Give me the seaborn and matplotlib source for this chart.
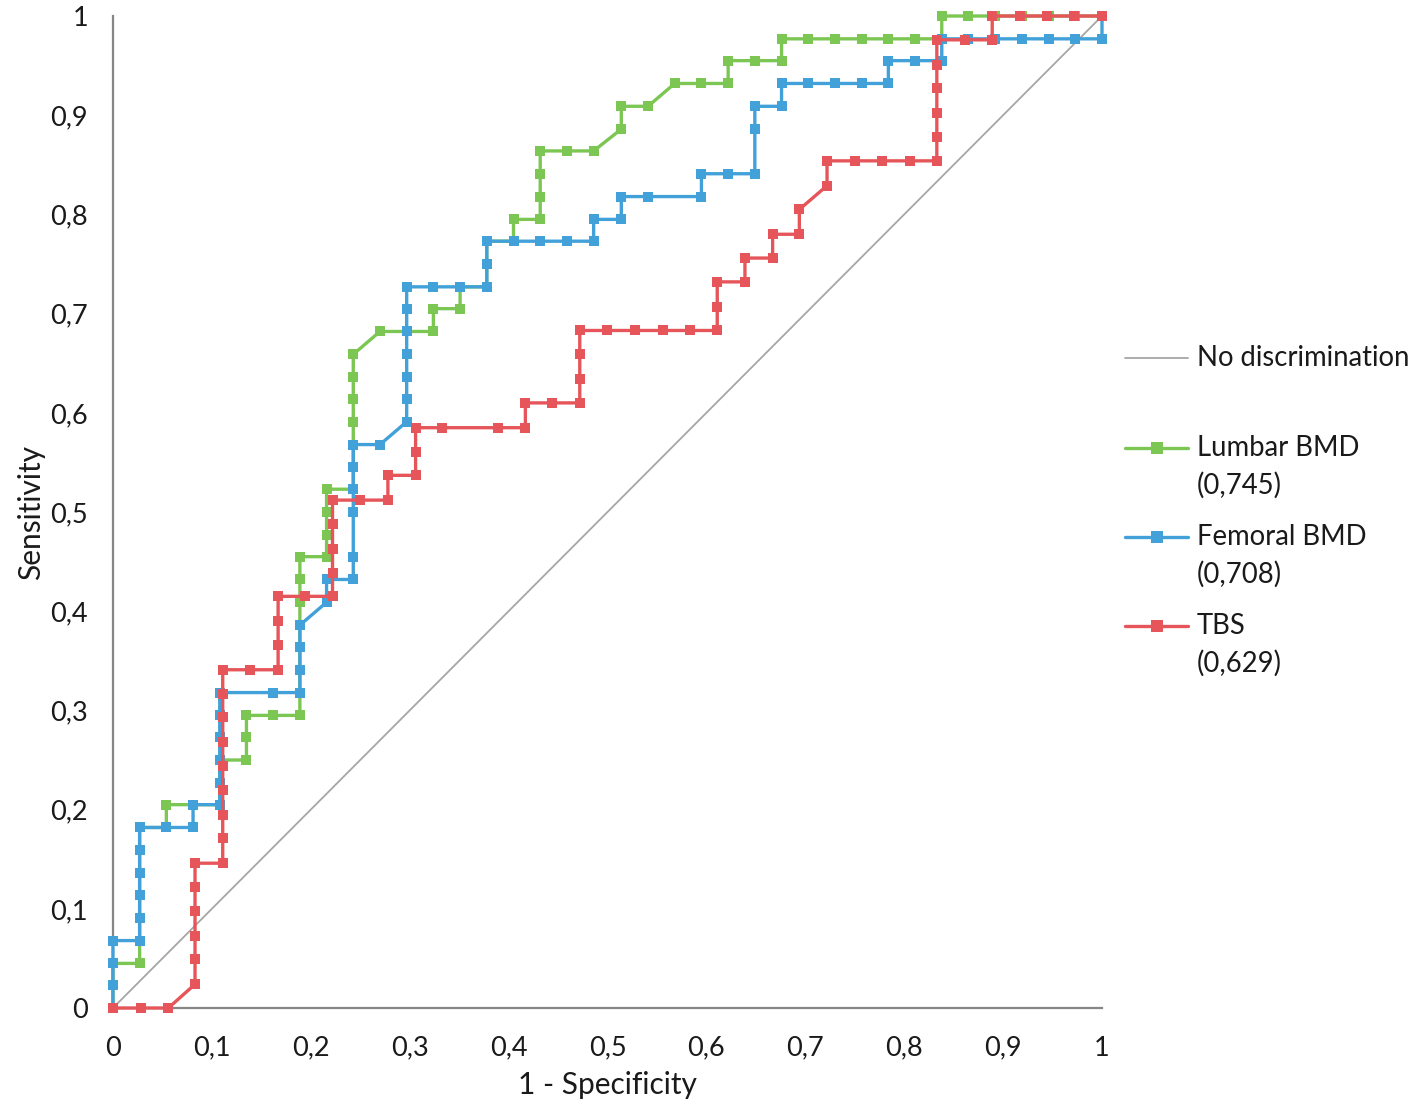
import matplotlib
matplotlib.use("Agg")
import matplotlib.pyplot as plt
import seaborn as sns
from matplotlib.lines import Line2D
from matplotlib.ticker import FuncFormatter, MultipleLocator

# ROC points (1 - specificity, sensitivity)
lumbar_fpr = [0, 0, 0, 0.027, 0.027, 0.027, 0.027, 0.027, 0.027, 0.027, 0.054, 0.054, 0.081, 0.108,
              0.108, 0.108, 0.135, 0.135, 0.135, 0.162, 0.189, 0.189, 0.189, 0.189, 0.189, 0.189,
              0.189, 0.189, 0.216, 0.216, 0.216, 0.216, 0.243, 0.243, 0.243, 0.243, 0.243, 0.243,
              0.243, 0.270, 0.297, 0.324, 0.324, 0.351, 0.351, 0.378, 0.378, 0.378, 0.405, 0.405,
              0.432, 0.432, 0.432, 0.432, 0.459, 0.486, 0.514, 0.514, 0.541, 0.568, 0.595, 0.622,
              0.622, 0.649, 0.676, 0.676, 0.703, 0.730, 0.757, 0.784, 0.811, 0.838, 0.838, 0.865,
              0.892, 0.919, 0.946, 0.973, 1]
lumbar_tpr = [0, 0.023, 0.045, 0.045, 0.068, 0.091, 0.114, 0.136, 0.159, 0.182, 0.182, 0.205, 0.205,
              0.205, 0.227, 0.250, 0.250, 0.273, 0.295, 0.295, 0.295, 0.318, 0.341, 0.364, 0.386,
              0.409, 0.432, 0.455, 0.455, 0.477, 0.500, 0.523, 0.523, 0.545, 0.568, 0.591, 0.614,
              0.636, 0.659, 0.682, 0.682, 0.682, 0.705, 0.705, 0.727, 0.727, 0.750, 0.773, 0.773,
              0.795, 0.795, 0.818, 0.841, 0.864, 0.864, 0.864, 0.886, 0.909, 0.909, 0.932, 0.932,
              0.932, 0.955, 0.955, 0.955, 0.977, 0.977, 0.977, 0.977, 0.977, 0.977, 0.977, 1, 1,
              1, 1, 1, 1, 1]

femoral_fpr = [0, 0, 0, 0, 0.027, 0.027, 0.027, 0.027, 0.027, 0.027, 0.054, 0.081, 0.081, 0.108,
               0.108, 0.108, 0.108, 0.108, 0.108, 0.162, 0.189, 0.189, 0.189, 0.189, 0.216, 0.216,
               0.243, 0.243, 0.243, 0.243, 0.243, 0.243, 0.270, 0.297, 0.297, 0.297, 0.297, 0.297,
               0.297, 0.297, 0.324, 0.351, 0.378, 0.378, 0.378, 0.405, 0.432, 0.459, 0.486, 0.486,
               0.514, 0.514, 0.541, 0.595, 0.595, 0.622, 0.649, 0.649, 0.649, 0.676, 0.676, 0.703,
               0.730, 0.757, 0.784, 0.784, 0.811, 0.838, 0.838, 0.865, 0.892, 0.919, 0.946, 0.973,
               1, 1]
femoral_tpr = [0, 0.023, 0.045, 0.068, 0.068, 0.091, 0.114, 0.136, 0.159, 0.182, 0.182, 0.182,
               0.205, 0.205, 0.227, 0.250, 0.273, 0.295, 0.318, 0.318, 0.318, 0.341, 0.364, 0.386,
               0.409, 0.432, 0.432, 0.455, 0.500, 0.523, 0.545, 0.568, 0.568, 0.591, 0.614, 0.636,
               0.659, 0.682, 0.705, 0.727, 0.727, 0.727, 0.727, 0.750, 0.773, 0.773, 0.773, 0.773,
               0.773, 0.795, 0.795, 0.818, 0.818, 0.818, 0.841, 0.841, 0.841, 0.886, 0.909, 0.909,
               0.932, 0.932, 0.932, 0.932, 0.932, 0.955, 0.955, 0.955, 0.977, 0.977, 0.977, 0.977,
               0.977, 0.977, 0.977, 1]

tbs_fpr = [0, 0.028, 0.056, 0.083, 0.083, 0.083, 0.083, 0.083, 0.083, 0.111, 0.111, 0.111, 0.111,
           0.111, 0.111, 0.111, 0.111, 0.111, 0.139, 0.167, 0.167, 0.167, 0.167, 0.194, 0.222,
           0.222, 0.222, 0.222, 0.222, 0.250, 0.278, 0.278, 0.306, 0.306, 0.306, 0.333, 0.389,
           0.417, 0.417, 0.444, 0.472, 0.472, 0.472, 0.472, 0.500, 0.528, 0.556, 0.583, 0.611,
           0.611, 0.611, 0.639, 0.639, 0.667, 0.667, 0.694, 0.694, 0.722, 0.722, 0.750, 0.778,
           0.806, 0.833, 0.833, 0.833, 0.833, 0.833, 0.833, 0.861, 0.889, 0.889, 0.917, 0.944,
           0.972, 1]
tbs_tpr = [0, 0, 0, 0.024, 0.049, 0.073, 0.098, 0.122, 0.146, 0.146, 0.171, 0.195, 0.220, 0.244,
           0.268, 0.293, 0.317, 0.341, 0.341, 0.341, 0.366, 0.390, 0.415, 0.415, 0.415, 0.439,
           0.463, 0.488, 0.512, 0.512, 0.512, 0.537, 0.537, 0.561, 0.585, 0.585, 0.585, 0.585,
           0.610, 0.610, 0.610, 0.634, 0.659, 0.683, 0.683, 0.683, 0.683, 0.683, 0.683, 0.707,
           0.732, 0.732, 0.756, 0.756, 0.780, 0.780, 0.805, 0.829, 0.854, 0.854, 0.854, 0.854,
           0.854, 0.878, 0.902, 0.927, 0.951, 0.976, 0.976, 0.976, 1, 1, 1, 1, 1]

ref_x = [0, 1]
ref_y = [0, 1]

series_names = ["Lumbar BMD", "Femoral BMD", "TBS"]
auc_labels = ["(0,745)", "(0,708)", "(0,629)"]
colors = ["#7cc653", "#41a1d8", "#e65559"]
ref_name = "No discrimination"
ref_color = "#a6a6a6"
txt = "#1a1a1a"

sns.set_theme(style="white")
plt.rcParams["font.family"] = ["Lato", "DejaVu Sans"]

fig, ax = plt.subplots(figsize=(14.17, 11.12), dpi=100)
fig.subplots_adjust(left=0.0797, right=0.7777, bottom=0.0935, top=0.9856)

sns.lineplot(x=ref_x, y=ref_y, ax=ax, color=ref_color, linewidth=1.3)

curves = [(lumbar_fpr, lumbar_tpr), (femoral_fpr, femoral_tpr), (tbs_fpr, tbs_tpr)]
for (fx, fy), c in zip(curves, colors):
    sns.lineplot(x=fx, y=fy, ax=ax, sort=False, estimator=None, color=c,
                 linewidth=2.4, marker="s", markersize=7.8, markeredgewidth=0,
                 clip_on=False, zorder=3)

ax.set_xlim(0, 1)
ax.set_ylim(0, 1)
ax.xaxis.set_major_locator(MultipleLocator(0.1))
ax.yaxis.set_major_locator(MultipleLocator(0.1))
comma = FuncFormatter(lambda v, p: ("%g" % round(v, 1)).replace(".", ","))
ax.xaxis.set_major_formatter(comma)
ax.yaxis.set_major_formatter(comma)

for side in ["top", "right"]:
    ax.spines[side].set_visible(False)
for side in ["left", "bottom"]:
    ax.spines[side].set_color("#868686")
    ax.spines[side].set_linewidth(1.6)

ax.tick_params(axis="both", which="major", direction="out", length=6, width=1.4,
               color="#868686", labelsize=19.5, labelcolor=txt)
ax.tick_params(axis="x", pad=14)
ax.tick_params(axis="y", pad=12)
ax.set_xlabel("1 - Specificity", fontsize=21.5, color=txt)
ax.set_ylabel("Sensitivity", fontsize=21.5, color=txt)
ax.xaxis.set_label_coords(0.5, -0.063)
ax.yaxis.set_label_coords(-0.069, 0.5)

# legend drawn by hand so the AUC sits on a second line under each name
H = 1112.0
W = 1417.0
x0, x1, xt = 1125 / W, 1188 / W, 1197 / W
rows = [358, 448, 537, 626]
fig.add_artist(Line2D([x0, x1], [1 - rows[0] / H] * 2, transform=fig.transFigure,
                      color=ref_color, linewidth=1.3))
fig.text(xt, 1 - rows[0] / H, ref_name, fontsize=19.8, va="center", color=txt)
for r, name, auc, c in zip(rows[1:], series_names, auc_labels, colors):
    yy = 1 - r / H
    fig.add_artist(Line2D([x0, x1], [yy, yy], transform=fig.transFigure,
                          color=c, linewidth=2.4))
    fig.add_artist(Line2D([(x0 + x1) / 2], [yy], transform=fig.transFigure,
                          color=c, marker="s", markersize=8.5, markeredgewidth=0))
    fig.text(xt, yy, name, fontsize=19.8, va="center", color=txt)
    fig.text(xt, 1 - (r + 37) / H, auc, fontsize=19.8, va="center", color=txt)

fig.savefig("out.png", dpi=100)
